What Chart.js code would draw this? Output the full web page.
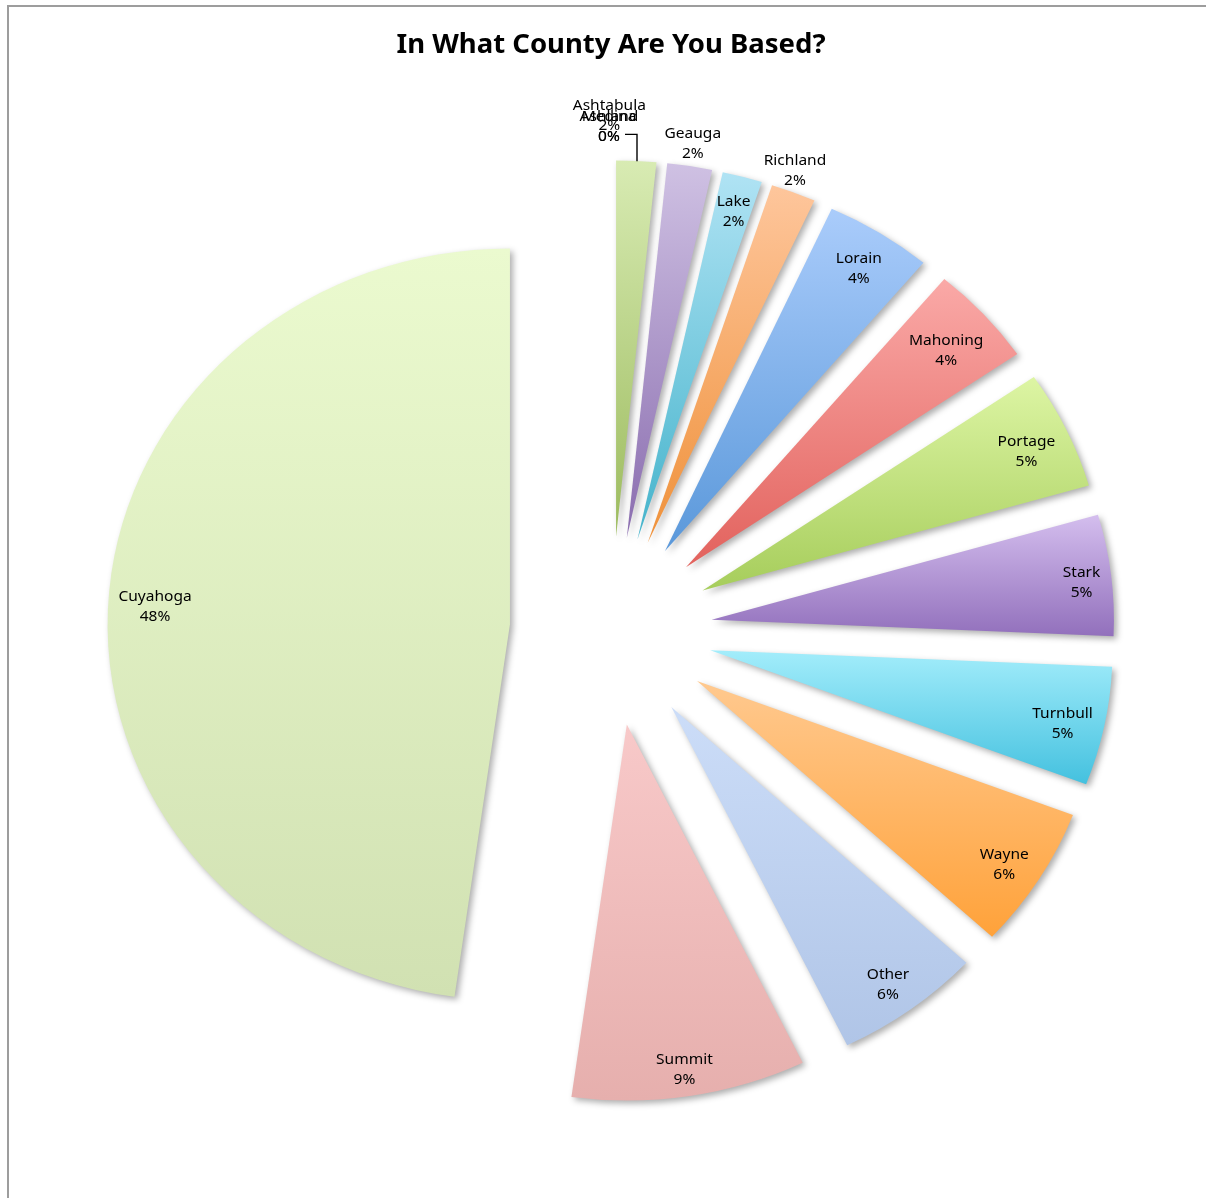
<!DOCTYPE html>
<html>
<head>
<meta charset="utf-8">
<script src="https://cdn.jsdelivr.net/npm/chart.js@4.4.0/dist/chart.umd.min.js"></script>
<style>
  html, body { margin: 0; padding: 0; background: #fff; overflow: hidden; }
  #contenedor { position: relative; width: 1206px; height: 1198px; }
  #marco { position: absolute; left: 7px; top: 5px; width: 1300px; height: 1300px;
           border-left: 2px solid #9d9d9d; border-top: 2px solid #9d9d9d; pointer-events: none; }
</style>
</head>
<body>
<div id="contenedor">
  <canvas id="graficaCondados"></canvas>
  <div id="marco"></div>
</div>
<script>
// Datos de la encuesta (porcentaje de respuestas), ordenados de menor a mayor
var condados = ['Ashland', 'Medina', 'Ashtabula', 'Geauga', 'Lake', 'Richland', 'Lorain', 'Mahoning',
                'Portage', 'Stark', 'Turnbull', 'Wayne', 'Other', 'Summit', 'Cuyahoga'];
var porcentajes = [0, 0, 1.6, 1.8, 1.6, 1.8, 4.3, 4.3, 5.1, 5.2, 5.1, 6.1, 5.9, 9.4, 47.8];

// Colores de cada porción (arriba y abajo del degradado)
var coloresArriba = ['#A7C9F7', '#F7A9A7', '#D8EBB3', '#CFC1E3', '#B0E3F4', '#FEC69C', '#AACCFB', '#FAA9A7',
                     '#DDF5A4', '#D4BEEE', '#A3EDFB', '#FFC98F', '#CCDDF8', '#F8C9C9', '#EBFACF'];
var coloresAbajo = ['#5A9ADB', '#DE5C58', '#9CBB5E', '#8A6DAF', '#44B3CB', '#EF913A', '#5A98DA', '#E2625D',
                    '#A6CD5B', '#9270BC', '#44C1DF', '#FFA23A', '#B0C5E7', '#E6AFAD', '#D1E1B2'];

var ESTIRAMIENTO = 1.07;   // el gráfico está algo más ancho que alto
var SEPARACION = 94.7;     // distancia de cada porción al centro
var RADIO = 376;
var ALTO_LINEA = 20;

// Etiquetas que van fuera de la porción (desplazamiento desde el borde exterior)
var etiquetasFuera = {
    'Ashland': [-2, -33],
    'Medina': [-2, -33],
    'Ashtabula': [-27, -45],
    'Geauga': [3, -22],
    'Richland': [1.5, -21]
};

var total = porcentajes.reduce(function (a, b) { return a + b; }, 0);

function vertice(arco) {
    var medio = (arco.startAngle + arco.endAngle) / 2;
    return {
        medio: medio,
        x: arco.x + SEPARACION * Math.cos(medio),
        y: arco.y + SEPARACION * Math.sin(medio)
    };
}

function estirar(ctx, cx, cy) {
    ctx.translate(cx, cy);
    ctx.scale(ESTIRAMIENTO, 1);
    ctx.translate(-cx, -cy);
}

// Dibuja las porciones separadas, con degradado y sombra
var pluginPorciones = {
    id: 'porcionesSeparadas',
    beforeDatasetDraw: function (chart, args) {
        var ctx = chart.ctx;
        var arcos = args.meta.data;
        ctx.save();
        estirar(ctx, arcos[0].x, arcos[0].y);
        arcos.forEach(function (arco, i) {
            if (arco.circumference <= 0) {
                return;
            }
            var v = vertice(arco);
            var r = arco.outerRadius;
            var ys = [v.y, v.y + r * Math.sin(arco.startAngle), v.y + r * Math.sin(arco.endAngle)];
            for (var k = -4; k <= 8; k++) {
                var ang = k * Math.PI / 2;
                if (ang > arco.startAngle && ang < arco.endAngle) {
                    ys.push(v.y + r * Math.sin(ang));
                }
            }
            var grad = ctx.createLinearGradient(0, Math.min.apply(null, ys), 0, Math.max.apply(null, ys));
            grad.addColorStop(0, coloresArriba[i]);
            grad.addColorStop(1, coloresAbajo[i]);

            ctx.beginPath();
            ctx.moveTo(v.x, v.y);
            ctx.arc(v.x, v.y, r, arco.startAngle, arco.endAngle);
            ctx.closePath();
            ctx.shadowColor = 'rgba(0, 0, 0, 0.32)';
            ctx.shadowBlur = 6;
            ctx.shadowOffsetX = 3;
            ctx.shadowOffsetY = 3;
            ctx.fillStyle = grad;
            ctx.fill();
        });
        ctx.restore();
        return false;
    },
    afterDatasetsDraw: function (chart) {
        var ctx = chart.ctx;
        var arcos = chart.getDatasetMeta(0).data;
        ctx.save();
        estirar(ctx, arcos[0].x, arcos[0].y);
        ctx.font = '14.5px "Noto Sans"';
        ctx.fillStyle = '#000';
        ctx.strokeStyle = '#000';
        ctx.textAlign = 'center';
        ctx.textBaseline = 'middle';
        arcos.forEach(function (arco, i) {
            var lineas = [condados[i], Math.round(porcentajes[i] / total * 100) + '%'];
            var ancho = Math.max(ctx.measureText(lineas[0]).width, ctx.measureText(lineas[1]).width);
            var alto = 2 * ALTO_LINEA;
            var v = vertice(arco);
            var r = arco.outerRadius;
            var px, py;
            var ajuste = etiquetasFuera[condados[i]];
            var ox = v.x + r * Math.cos(v.medio);
            var oy = v.y + r * Math.sin(v.medio);
            if (ajuste) {
                px = ox + ajuste[0] / ESTIRAMIENTO;
                py = oy + ajuste[1];
            } else {
                var ext = ancho / 2 * Math.abs(Math.cos(v.medio)) + alto / 2 * Math.abs(Math.sin(v.medio));
                var dist = r - 8 - ext;
                px = v.x + dist * Math.cos(v.medio);
                py = v.y + dist * Math.sin(v.medio) + 5;
            }
            ctx.fillText(lineas[0], px, py - ALTO_LINEA / 2);
            ctx.fillText(lineas[1], px, py + ALTO_LINEA / 2);

            // línea guía para las porciones vacías
            if (porcentajes[i] === 0 && i === 1) {
                ctx.lineWidth = 1.3;
                ctx.beginPath();
                ctx.moveTo(px + 16 / ESTIRAMIENTO, py + 7);
                ctx.lineTo(px + 28 / ESTIRAMIENTO, py + 7);
                ctx.lineTo(px + 28 / ESTIRAMIENTO, oy + 1);
                ctx.stroke();
            }
        });
        ctx.restore();
    }
};

var ctx = document.getElementById('graficaCondados').getContext('2d');

var graficaCondados = new Chart(ctx, {
    type: 'pie',
    data: {
        labels: condados,
        datasets: [{
            data: porcentajes,
            backgroundColor: coloresAbajo,
            borderWidth: 0
        }]
    },
    options: {
        responsive: true,
        maintainAspectRatio: false,
        animation: false,
        radius: RADIO,
        layout: {
            padding: { left: 16, right: 0, top: 0, bottom: 7.5 }
        },
        plugins: {
            legend: { display: false },
            tooltip: { enabled: false },
            title: {
                display: true,
                text: 'In What County Are You Based?',
                color: '#000',
                font: { family: '"Noto Sans"', size: 27.5, weight: 'bold' },
                padding: { top: 28.5, bottom: 10 }
            }
        }
    },
    plugins: [pluginPorciones]
});
</script>
</body>
</html>
